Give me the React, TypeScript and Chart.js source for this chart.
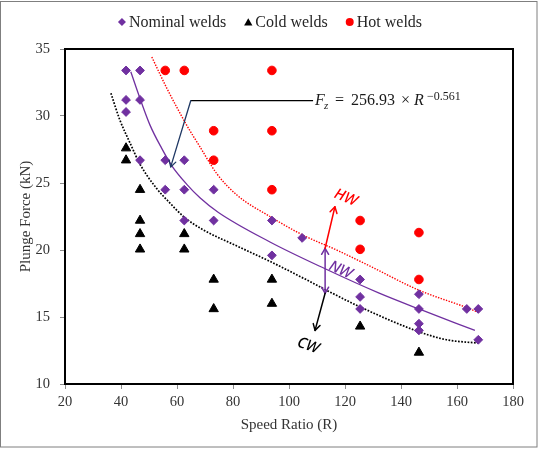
import React, { useEffect, useRef } from "react";
import { Chart, registerables } from "chart.js";
import { drawPoint } from "chart.js/helpers";

Chart.register(...registerables);

const SERIF = "'Liberation Serif', 'Times New Roman', serif";
const SANS = "'Noto Sans', 'Open Sans', sans-serif";

const PURPLE = "#7030A0";
const RED = "#FF0000";
const BLACK = "#000000";

// ---- scatter data (Speed Ratio R, Plunge Force kN) ----
const nominalR = [41.8, 46.8, 41.8, 46.8, 41.8, 46.8, 55.8, 62.6, 55.8, 62.6, 73.1, 62.6, 73.1, 93.9, 104.7, 93.9, 125.4, 125.4, 125.4, 146.4, 146.4, 146.4, 146.4, 163.5, 167.6, 167.6];
const nominalF = [33.4, 33.4, 31.2, 31.2, 30.3, 26.7, 26.7, 26.7, 24.5, 24.5, 24.5, 22.2, 22.2, 22.2, 20.9, 19.6, 17.8, 16.5, 15.6, 16.7, 15.6, 14.5, 14.0, 15.6, 15.6, 13.3];

const coldR = [41.8, 41.8, 46.8, 46.8, 46.8, 46.8, 62.6, 62.6, 73.1, 73.1, 93.9, 93.9, 125.4, 146.4];
const coldF = [27.6, 26.7, 24.5, 22.2, 21.2, 20.05, 21.2, 20.05, 17.8, 15.6, 17.8, 16.0, 14.3, 12.35];

const hotR = [55.8, 62.6, 93.9, 73.1, 93.9, 73.1, 93.9, 125.4, 125.4, 146.4, 146.4];
const hotF = [33.4, 33.4, 33.4, 28.9, 28.9, 26.7, 24.5, 22.2, 20.05, 21.3, 17.8];

// ---- trend curves ----
const nwTrendR = [43.5, 46.8, 50.4, 54.5, 58.1, 63.5, 68.2, 74.8, 93.2, 112.9, 132.0, 146.4, 166.4];
const nwTrendF = [33.3, 31.3, 29.3, 27.6, 26.3, 24.9, 23.9, 22.8, 20.6, 18.6, 16.8, 15.6, 14.0];

const hwTrendR = [51.0, 56.3, 63.5, 68.2, 74.2, 81.4, 93.2, 105.1, 117.0, 128.9, 146.4, 163.5, 168.2];
const hwTrendF = [34.4, 32.1, 29.3, 27.7, 25.7, 24.1, 22.5, 21.1, 20.0, 18.8, 17.0, 15.7, 15.3];

const cwTrendR = [36.4, 39.6, 43.2, 46.8, 52.7, 57.5, 62.3, 69.4, 81.4, 93.2, 105.1, 112.9, 125.4, 146.4, 156.3, 167.6];
const cwTrendF = [31.7, 29.7, 28.0, 26.4, 24.6, 23.5, 22.5, 21.5, 20.3, 19.15, 17.9, 17.05, 15.75, 13.9, 13.3, 13.05];

// ---- axis settings ----
const xMin = 20, xMax = 180, xStep = 20;
const yMin = 10, yMax = 35, yStep = 5;

// ---- legend labels ----
const seriesLabels = ["Nominal welds", "Cold welds", "Hot welds"];

// ---- annotations (data coordinates) ----
const eqElbow = { r: 64.9, f: 31.14 };
const eqEndR = 108.6;
const eqTip = { r: 57.75, f: 26.2 };
const bandR = 112.9;
const bandTopF = 20.13;
const bandBottomF = 16.77;
const hwTip = { r: 116.4, f: 23.23 };
const cwTip = { r: 109.3, f: 14.0 };
const hwLabel = { r: 120.2, f: 23.9, text: "HW" };
const nwLabel = { r: 118.4, f: 18.5, text: "NW" };
const cwLabel = { r: 106.8, f: 12.85, text: "CW" };

const toPts = (xs: number[], ys: number[]) => xs.map((x, i) => ({ x, y: ys[i] }));

function arrow(ctx: CanvasRenderingContext2D, x1: number, y1: number, x2: number, y2: number, color: string, headStart: boolean, headEnd: boolean, lw: number) {
  ctx.save();
  ctx.strokeStyle = color;
  ctx.lineWidth = lw;
  ctx.lineCap = "round";
  ctx.lineJoin = "round";
  ctx.beginPath();
  ctx.moveTo(x1, y1);
  ctx.lineTo(x2, y2);
  ctx.stroke();
  const head = (xa: number, ya: number, xb: number, yb: number) => {
    const ang = Math.atan2(yb - ya, xb - xa);
    const L = 7;
    const a = Math.PI / 6;
    ctx.beginPath();
    ctx.moveTo(xb - L * Math.cos(ang - a), yb - L * Math.sin(ang - a));
    ctx.lineTo(xb, yb);
    ctx.lineTo(xb - L * Math.cos(ang + a), yb - L * Math.sin(ang + a));
    ctx.stroke();
  };
  if (headEnd) head(x1, y1, x2, y2);
  if (headStart) head(x2, y2, x1, y1);
  ctx.restore();
}

function rotText(ctx: CanvasRenderingContext2D, text: string, x: number, y: number, deg: number, color: string, font: string) {
  ctx.save();
  ctx.translate(x, y);
  ctx.rotate((deg * Math.PI) / 180);
  ctx.font = font;
  ctx.fillStyle = color;
  ctx.textAlign = "center";
  ctx.textBaseline = "middle";
  ctx.fillText(text, 0, 0);
  ctx.restore();
}

const decorPlugin = {
  id: "decor",
  beforeDraw(chart: any) {
    const ctx: CanvasRenderingContext2D = chart.ctx;
    ctx.save();
    ctx.fillStyle = "#ffffff";
    ctx.fillRect(0, 0, chart.width, chart.height);
    ctx.strokeStyle = "#7f7f7f";
    ctx.lineWidth = 1;
    ctx.strokeRect(0.5, 1.5, 536.5, 445.5);
    ctx.restore();
  },
  afterDraw(chart: any) {
    const ctx: CanvasRenderingContext2D = chart.ctx;
    const { left, top, right, bottom } = chart.chartArea;
    const xs = chart.scales.x;
    const ys = chart.scales.y;
    const px = (r: number) => xs.getPixelForValue(r);
    const py = (f: number) => ys.getPixelForValue(f);

    // plot frame
    ctx.save();
    ctx.strokeStyle = "#000";
    ctx.lineWidth = 2;
    ctx.strokeRect(left, top, right - left, bottom - top);
    ctx.restore();

    // legend
    ctx.save();
    ctx.font = `16px ${SERIF}`;
    const styles = ["rectRot", "triangle", "circle"];
    const colors = [PURPLE, BLACK, RED];
    const radii = [4.0, 4.8, 4.0];
    const widths = seriesLabels.map((t) => ctx.measureText(t).width);
    const itemW = widths.map((w) => 4 + 7 + w);
    const gap = 18;
    const total = itemW.reduce((a, b) => a + b, 0) + gap * (itemW.length - 1);
    let cx = chart.width / 2 - total / 2;
    const ly = 22;
    seriesLabels.forEach((t, i) => {
      const mx = cx + 4;
      ctx.fillStyle = colors[i];
      ctx.strokeStyle = colors[i];
      drawPoint(ctx, { pointStyle: styles[i] as any, rotation: 0, radius: radii[i], borderWidth: 0 } as any, mx, i === 1 ? ly + 1 : ly);
      ctx.fillStyle = "#262626";
      ctx.textAlign = "left";
      ctx.textBaseline = "middle";
      ctx.fillText(t, mx + 7, ly + 1);
      cx += itemW[i] + gap;
    });
    ctx.restore();

    // equation leader
    const ex = px(eqElbow.r), ey = py(eqElbow.f);
    ctx.save();
    ctx.strokeStyle = "#000";
    ctx.lineWidth = 1.2;
    ctx.beginPath();
    ctx.moveTo(ex, ey);
    ctx.lineTo(px(eqEndR), ey);
    ctx.stroke();
    ctx.restore();
    arrow(ctx, ex, ey, px(eqTip.r), py(eqTip.f), "#1F3864", false, true, 1.3);

    // equation text
    const x0 = px(eqEndR) + 2;
    const base = ey + 4.5;
    ctx.save();
    ctx.fillStyle = "#1a1a1a";
    ctx.textBaseline = "alphabetic";
    ctx.textAlign = "left";
    ctx.font = `italic 16px ${SERIF}`;
    ctx.fillText("F", x0, base);
    ctx.font = `italic 11px ${SERIF}`;
    ctx.fillText("z", x0 + 9, base + 3.5);
    ctx.font = `16px ${SERIF}`;
    ctx.fillText("=", x0 + 20, base);
    ctx.fillText("256.93", x0 + 36, base);
    ctx.fillText("\u00D7", x0 + 86, base);
    ctx.font = `italic 16px ${SERIF}`;
    ctx.fillText("R", x0 + 99, base);
    ctx.font = `12px ${SERIF}`;
    ctx.fillText("\u22120.561", x0 + 112, base - 5);
    ctx.restore();

    // HW / NW / CW arrows
    const bx = px(bandR);
    const bt = py(bandTopF);
    const bb = py(bandBottomF);
    arrow(ctx, bx, bt, bx, bb, PURPLE, true, true, 1.5);
    arrow(ctx, bx, bt, px(hwTip.r), py(hwTip.f), RED, false, true, 1.5);
    arrow(ctx, bx, bb, px(cwTip.r), py(cwTip.f), BLACK, false, true, 1.5);

    rotText(ctx, hwLabel.text, px(hwLabel.r), py(hwLabel.f), 22, RED, `italic 500 15px ${SANS}`);
    rotText(ctx, nwLabel.text, px(nwLabel.r), py(nwLabel.f), 24, PURPLE, `italic 500 15px ${SANS}`);
    rotText(ctx, cwLabel.text, px(cwLabel.r), py(cwLabel.f), 20, BLACK, `italic 500 15px ${SANS}`);
  },
};

export default function App() {
  const ref = useRef<HTMLCanvasElement | null>(null);

  useEffect(() => {
    if (!ref.current) return;
    const chart = new Chart(ref.current, {
      type: "scatter",
      data: {
        datasets: [
          {
            label: seriesLabels[0],
            data: toPts(nominalR, nominalF),
            pointStyle: "rectRot",
            pointRadius: 4.4,
            backgroundColor: PURPLE,
            borderColor: PURPLE,
            pointBorderWidth: 1,
          },
          {
            label: seriesLabels[1],
            data: toPts(coldR, coldF),
            pointStyle: "triangle",
            pointRadius: 5.4,
            backgroundColor: BLACK,
            borderColor: BLACK,
            pointBorderWidth: 1,
          },
          {
            label: seriesLabels[2],
            data: toPts(hotR, hotF),
            pointStyle: "circle",
            pointRadius: 4.3,
            backgroundColor: RED,
            borderColor: RED,
            pointBorderWidth: 1,
          },
          {
            label: "NW trend",
            data: toPts(nwTrendR, nwTrendF),
            showLine: true,
            pointRadius: 0,
            borderColor: PURPLE,
            borderWidth: 1.3,
            cubicInterpolationMode: "monotone",
          },
          {
            label: "HW trend",
            data: toPts(hwTrendR, hwTrendF),
            showLine: true,
            pointRadius: 0,
            borderColor: RED,
            borderWidth: 1.4,
            borderDash: [1.4, 1.4],
            cubicInterpolationMode: "monotone",
          },
          {
            label: "CW trend",
            data: toPts(cwTrendR, cwTrendF),
            showLine: true,
            pointRadius: 0,
            borderColor: BLACK,
            borderWidth: 1.7,
            borderDash: [1.7, 1.5],
            cubicInterpolationMode: "monotone",
          },
        ],
      } as any,
      options: {
        animation: false,
        responsive: false,
        maintainAspectRatio: false,
        layout: { padding: { top: 49, right: 27, bottom: 0, left: 0 } },
        plugins: {
          legend: { display: false },
          tooltip: { enabled: false },
        },
        scales: {
          x: {
            type: "linear",
            min: xMin,
            max: xMax,
            ticks: { stepSize: xStep, color: "#333", font: { family: SERIF, size: 14.5 }, padding: 4 },
            grid: { drawOnChartArea: false, drawTicks: true, tickLength: 5, color: "#8c8c8c" },
            border: { display: false },
            title: {
              display: true,
              text: "Speed Ratio (R)",
              color: "#333",
              font: { family: SERIF, size: 15 },
              padding: { top: 0, bottom: 16 },
            },
            afterFit: (s: any) => {
              s.height = 66;
            },
          },
          y: {
            type: "linear",
            min: yMin,
            max: yMax,
            ticks: { stepSize: yStep, color: "#333", font: { family: SERIF, size: 14.5 }, padding: 10 },
            grid: { drawOnChartArea: false, drawTicks: true, tickLength: 5, color: "#8c8c8c" },
            border: { display: false },
            title: {
              display: true,
              text: "Plunge Force (kN)",
              color: "#333",
              font: { family: SERIF, size: 15 },
              padding: { top: 17.5, bottom: 0 },
            },
            afterFit: (s: any) => {
              s.width = 65;
            },
          },
        },
      } as any,
      plugins: [decorPlugin],
    });
    return () => chart.destroy();
  }, []);

  return (
    <div style={{ position: "absolute", left: 0, top: 0, width: 540, height: 450 }}>
      <canvas ref={ref} width={540} height={450} style={{ display: "block", width: 540, height: 450 }} />
    </div>
  );
}
